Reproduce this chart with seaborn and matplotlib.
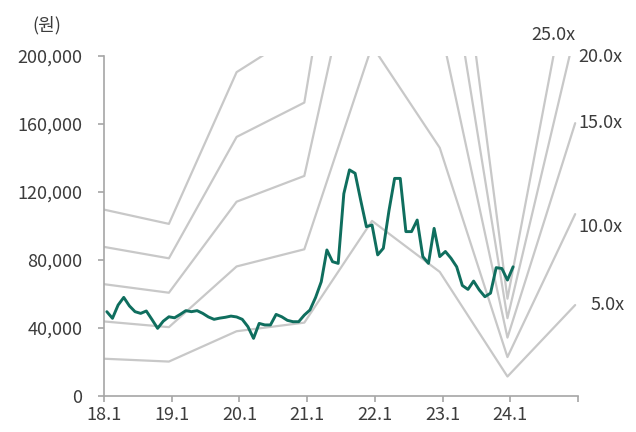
import numpy as np
import pandas as pd
import matplotlib
matplotlib.use("Agg")
import matplotlib.pyplot as plt
import seaborn as sns

# Monthly share price (thousand won), 2018-01 .. 2024-01
price_k = [
    49.6, 45.7, 53.5, 58, 53, 49.6, 48.6, 50, 45, 39.8,
    44, 46.6, 46, 48, 50.2, 49.6, 50.2, 48.6, 46.5, 45.1,
    45.8, 46.3, 47, 46.5, 45.1, 40.8, 33.9, 42.7, 41.8, 41.8,
    48, 46.6, 44.5, 43.7, 43.7, 47.6, 50.6, 58, 67.2, 85.9,
    79, 78, 119, 133, 131, 115, 99.6, 100.6, 83, 86.9,
    109, 128, 128, 96.7, 96.7, 103.5, 82, 78, 98.6, 82,
    85, 81, 76, 65, 62.7, 67.6, 62.4, 58.4, 60.5, 75.5,
    75, 68.2, 76,
]
price_start = "2018-01"

# Year-end EPS (won) used for the PER bands, 2017 .. 2024
eps_years = [2017, 2018, 2019, 2020, 2021, 2022, 2023, 2024]
eps = [4400, 4050, 7620, 8630, 20600, 14600, 2290, 10700]
multiples = [5, 10, 15, 20, 25]

x_ticks = [2018, 2019, 2020, 2021, 2022, 2023, 2024, 2025]
x_labels = ["18.1", "19.1", "20.1", "21.1", "22.1", "23.1", "24.1", ""]
y_ticks = [0, 40000, 80000, 120000, 160000, 200000]

TEXT = "#3c3c3c"
AXIS = "#a6a6a6"
BAND = "#c8c8c8"
PRICE = "#0f6e5e"

sns.set_style("white")
plt.rcParams["font.family"] = ["Noto Sans CJK KR", "DejaVu Sans"]

# Price frame: monthly points placed mid-month on a fractional-year axis
months = pd.date_range(price_start, periods=len(price_k), freq="MS")
price_df = pd.DataFrame({
    "t": months.year + (months.month - 0.5) / 12,
    "price": np.array(price_k) * 1000,
})

# Band frame: EPS x multiple at mid-December of each year
band_t = np.array(eps_years) + 11.5 / 12
band_df = pd.concat([
    pd.DataFrame({"t": band_t, "value": np.array(eps) * m, "band": f"{m:.1f}x"})
    for m in multiples
], ignore_index=True)

fig = plt.figure(figsize=(6.36, 4.32), dpi=100)
ax = fig.add_axes([104 / 636, 36 / 432, 474 / 636, 340 / 432])

sns.lineplot(data=band_df, x="t", y="value", units="band", estimator=None,
             color=BAND, linewidth=1.6, ax=ax, legend=False)
sns.lineplot(data=price_df, x="t", y="price", color=PRICE, linewidth=2.1,
             ax=ax, legend=False)

ax.set_xlim(2018, 2025)
ax.set_ylim(0, 200000)
ax.set_xticks(x_ticks)
ax.set_xticklabels(x_labels)
ax.set_yticks(y_ticks)
ax.set_yticklabels([f"{v:,}" for v in y_ticks])
ax.set_xlabel("")
ax.set_ylabel("")

for side in ["top", "right"]:
    ax.spines[side].set_visible(False)
for side in ["left", "bottom"]:
    ax.spines[side].set_color(AXIS)
    ax.spines[side].set_linewidth(1.2)

ax.tick_params(axis="y", length=4.5, width=1.2, color=AXIS, labelsize=13,
               labelcolor=TEXT, pad=11, direction="out", left=True)
ax.tick_params(axis="x", length=4, width=1.2, color=AXIS, labelsize=13,
               labelcolor=TEXT, pad=3, direction="out", bottom=True)

# Unit label above the value axis
fig.text(47 / 636, 1 - 25 / 432, "(원)", fontsize=13, color=TEXT,
         ha="center", va="center")

# Band labels next to the right end of each line
last_eps = eps[-1]
ax.annotate("5.0x", xy=(2025, 5 * last_eps), xytext=(9, 0),
            textcoords="offset points", fontsize=13, color=TEXT,
            ha="left", va="center", annotation_clip=False)
ax.annotate("10.0x", xy=(2025, 10 * last_eps), xytext=(0, -9),
            textcoords="offset points", fontsize=13, color=TEXT,
            ha="left", va="center", annotation_clip=False)
ax.annotate("15.0x", xy=(2025, 15 * last_eps), xytext=(0, 0),
            textcoords="offset points", fontsize=13, color=TEXT,
            ha="left", va="center", annotation_clip=False)
ax.annotate("20.0x", xy=(2025, 200000), xytext=(0, -1),
            textcoords="offset points", fontsize=13, color=TEXT,
            ha="left", va="center", annotation_clip=False)
ax.annotate("25.0x", xy=(2024.64, 200000), xytext=(0, 15),
            textcoords="offset points", fontsize=13, color=TEXT,
            ha="center", va="center", annotation_clip=False)

fig.savefig("out.png", dpi=100)
